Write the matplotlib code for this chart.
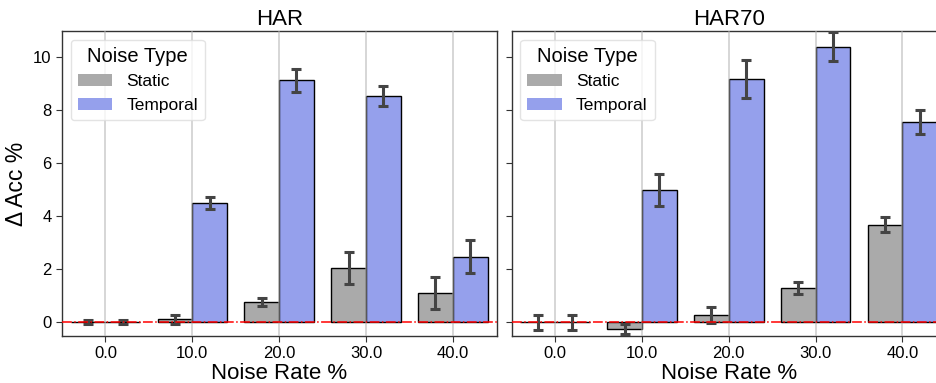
import matplotlib
matplotlib.use("Agg")
import matplotlib.pyplot as plt
import numpy as np
from matplotlib.patches import Patch

plt.rcParams['font.family'] = ['Liberation Sans', 'DejaVu Sans']

rates = ["0.0", "10.0", "20.0", "30.0", "40.0"]
datasets = ["HAR", "HAR70"]
series = ["Static", "Temporal"]

har_static = [0.0, 0.12, 0.76, 2.04, 1.11]
har_static_err = [0.08, 0.17, 0.15, 0.60, 0.61]
har_temporal = [0.0, 4.51, 9.14, 8.56, 2.47]
har_temporal_err = [0.08, 0.23, 0.43, 0.38, 0.62]

har70_static = [0.0, -0.26, 0.28, 1.30, 3.68]
har70_static_err = [0.28, 0.19, 0.31, 0.23, 0.29]
har70_temporal = [0.0, 5.00, 9.19, 10.41, 7.56]
har70_temporal_err = [0.28, 0.60, 0.73, 0.54, 0.45]

data = {
    "HAR": [(har_static, har_static_err), (har_temporal, har_temporal_err)],
    "HAR70": [(har70_static, har70_static_err), (har70_temporal, har70_temporal_err)],
}
colors = ["#aaaaaa", "#95a0ec"]

fig = plt.figure(figsize=(9.37, 3.83), dpi=100)
ax_w = 0.4643
ax_h = 0.7963
axes = [fig.add_axes([0.0662, 0.1227, ax_w, ax_h]),
        fig.add_axes([0.5461, 0.1227, ax_w, ax_h])]

x = np.arange(len(rates))
bw = 0.4
for ax, name in zip(axes, datasets):
    for i, (vals, errs) in enumerate(data[name]):
        pos = x + (i - 0.5) * bw
        ax.bar(pos, vals, width=bw, color=colors[i], edgecolor="black",
               linewidth=1.0, zorder=2)
        ax.errorbar(pos, vals, yerr=errs, fmt="none", ecolor="#444444",
                    elinewidth=2.2, capsize=3.3, capthick=2.2, zorder=4)
    ax.axhline(0, color="red", linestyle="-.", linewidth=1.1, zorder=5)
    ax.set_xlim(-0.5, 4.51)
    ax.set_ylim(-0.52, 11.0)
    ax.set_xticks(x)
    ax.set_xticklabels(rates, fontsize=12)
    ax.set_yticks([0, 2, 4, 6, 8, 10])
    ax.tick_params(axis="y", labelsize=12, length=4, width=0.8, color="#333333")
    ax.tick_params(axis="x", length=4, width=0.8, color="#333333")
    ax.xaxis.grid(True, color="#b0b0b0", alpha=0.6, linewidth=1.2, zorder=3)
    ax.set_axisbelow(False)
    for sp in ax.spines.values():
        sp.set_color("#333333")
        sp.set_linewidth(1.0)
    ax.set_title(name, fontsize=16, pad=4)
    ax.set_xlabel("Noise Rate %", fontsize=16, labelpad=1)
    handles = [Patch(facecolor=colors[0], label=series[0]),
               Patch(facecolor=colors[1], label=series[1])]
    leg = ax.legend(handles=handles, title="Noise Type", loc="upper left",
                    fontsize=12.5, title_fontsize=14.5, frameon=True,
                    borderaxespad=0.5, handlelength=2.0, handletextpad=0.8,
                    labelspacing=0.5)
    leg.get_frame().set_edgecolor("#dddddd")
    leg.set_zorder(6)

axes[0].set_ylabel("Δ Acc %", fontsize=16.5, labelpad=4)
axes[1].tick_params(axis="y", labelleft=False)

fig.savefig("out.png", dpi=100)
